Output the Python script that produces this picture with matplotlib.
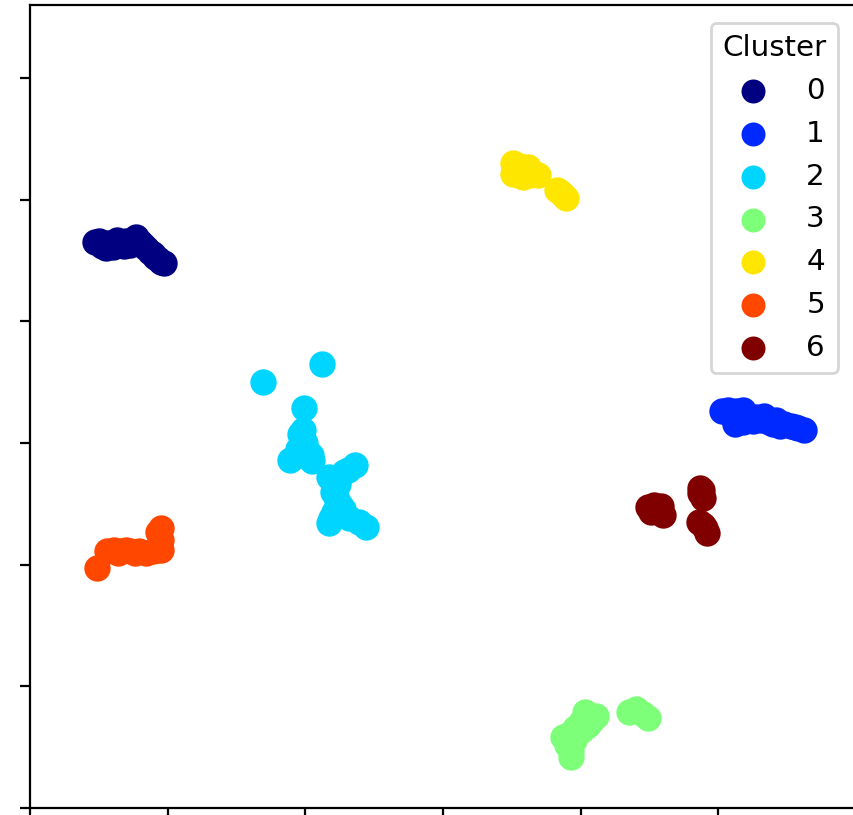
import numpy as np
import matplotlib
matplotlib.use("Agg")
import matplotlib.pyplot as plt

# embedding coordinates per cluster
x0 = [0.47, 0.52, 0.57, 0.60, 0.63, 0.65, 0.70, 0.73, 0.77, 0.80, 0.84, 0.87, 0.91, 0.95, 0.97,
      0.50, 0.55, 0.62, 0.68, 0.75, 0.82, 0.89, 0.93]
y0 = [4.65, 4.62, 4.64, 4.61, 4.67, 4.65, 4.66, 4.63, 4.69, 4.65, 4.60, 4.57, 4.53, 4.49, 4.48,
      4.66, 4.60, 4.63, 4.62, 4.64, 4.63, 4.55, 4.51]

x1 = [5.03, 5.07, 5.13, 5.18, 5.15, 5.22, 5.27, 5.31, 5.37, 5.42, 5.48, 5.53, 5.56, 5.62,
      5.10, 5.20, 5.25, 5.33, 5.45, 5.58, 5.40, 5.12, 5.18]
y1 = [3.26, 3.27, 3.26, 3.27, 3.19, 3.22, 3.21, 3.19, 3.17, 3.19, 3.16, 3.14, 3.13, 3.11,
      3.22, 3.20, 3.18, 3.22, 3.14, 3.12, 3.16, 3.16, 3.17]

x2 = [1.69, 2.12, 1.99, 1.98, 1.98, 1.89, 1.93, 1.99, 2.04, 2.05, 2.17, 2.36, 2.31,
      2.24, 2.22, 2.25, 2.17, 2.29, 2.44, 2.39, 2.21,
      1.96, 2.00, 1.95, 2.20, 2.23, 2.27, 2.32, 2.19, 2.28, 2.20]
y2 = [3.50, 3.65, 3.29, 3.11, 3.03, 2.86, 2.89, 2.93, 2.90, 2.85, 2.72, 2.82, 2.78,
      2.66, 2.56, 2.49, 2.34, 2.41, 2.31, 2.35, 2.43,
      3.07, 3.00, 2.95, 2.60, 2.53, 2.46, 2.38, 2.38, 2.76, 2.69]

x3 = [3.93, 3.87, 3.91, 3.96, 4.00, 4.04, 4.07, 4.11, 4.01, 3.95, 4.35, 4.40, 4.45, 4.49,
      3.90, 3.98, 4.05, 4.08, 3.93, 4.03]
y3 = [0.42, 0.58, 0.60, 0.66, 0.71, 0.74, 0.76, 0.76, 0.64, 0.56, 0.79, 0.81, 0.77, 0.74,
      0.52, 0.62, 0.68, 0.72, 0.47, 0.79]

x4 = [3.51, 3.53, 3.56, 3.60, 3.64, 3.67, 3.58, 3.51, 3.69, 3.83, 3.87, 3.89,
      3.54, 3.58, 3.62, 3.55, 3.63, 3.85]
y4 = [5.30, 5.23, 5.28, 5.25, 5.23, 5.21, 5.19, 5.21, 5.20, 5.08, 5.04, 5.01,
      5.27, 5.25, 5.27, 5.20, 5.20, 5.06]

x5 = [0.49, 0.56, 0.61, 0.67, 0.73, 0.79, 0.84, 0.89, 0.95, 0.95, 0.95, 0.93,
      0.64, 0.70, 0.76, 0.92]
y5 = [1.97, 2.11, 2.12, 2.11, 2.11, 2.11, 2.10, 2.11, 2.12, 2.20, 2.30, 2.27,
      2.10, 2.12, 2.10, 2.12]

x6 = [4.49, 4.58, 4.60, 4.51, 4.87, 4.87, 4.89, 4.89, 4.92, 4.86,
      4.55, 4.53, 4.90, 4.88]
y6 = [2.47, 2.48, 2.41, 2.43, 2.59, 2.63, 2.55, 2.33, 2.26, 2.35,
      2.44, 2.49, 2.30, 2.61]

clusters = [(x0, y0), (x1, y1), (x2, y2), (x3, y3), (x4, y4), (x5, y5), (x6, y6)]
labels = ["0", "1", "2", "3", "4", "5", "6"]

colors = plt.cm.jet(np.linspace(0, 1, len(clusters)))

fig = plt.figure(figsize=(8.54 / 2, 8.15 / 2), dpi=200)
ax = fig.add_axes([30 / 854, 7 / 815, 826 / 854, 803 / 815])

for (xs, ys), c, lab in zip(clusters, colors, labels):
    ax.scatter(xs, ys, color=c, s=72, label=lab)

ax.set_xlim(0, 6)
ax.set_ylim(0, 6.6)
ax.set_xticks(range(0, 7))
ax.set_yticks(range(0, 7))
ax.set_xticklabels([])
ax.set_yticklabels([])

ax.legend(title="Cluster", loc="upper right", fontsize=10.6, title_fontsize=10.6,
          markerscale=0.9, borderaxespad=0.6)

plt.savefig("out.png", dpi=200)
